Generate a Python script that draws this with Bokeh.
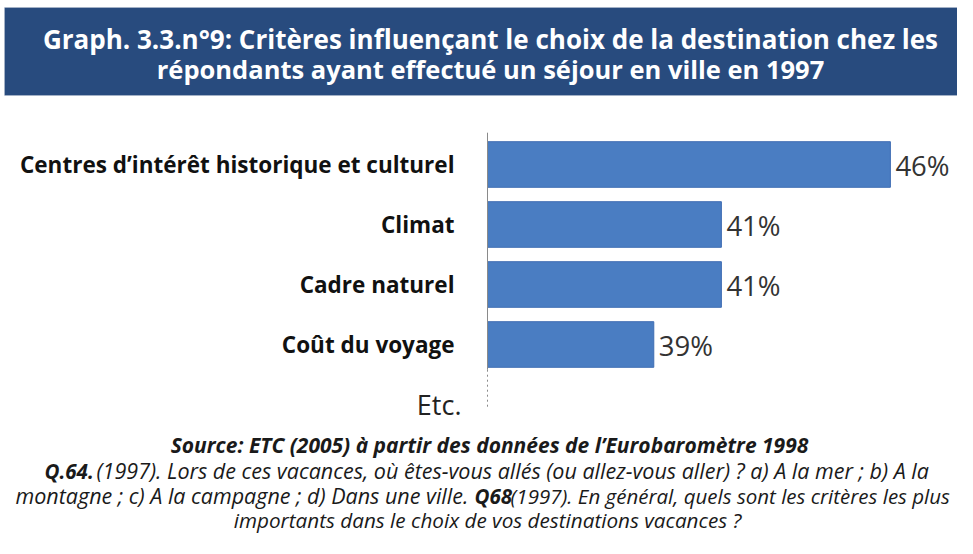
from bokeh.plotting import figure
from bokeh.models import Range1d, ColumnDataSource, Label, BoxAnnotation
from bokeh.core.properties import value
from bokeh.embed import file_html
from bokeh.resources import INLINE

# ---- data ----
categories = ["Centres d’intérêt historique et culturel", "Climat", "Cadre naturel", "Coût du voyage"]
values = [46, 41, 41, 39]
value_labels = ["46%", "41%", "41%", "39%"]
extra_category = "Etc."
title_lines = [
    "Graph. 3.3.n°9: Critères influençant le choix de la destination chez les",
    "répondants ayant effectué un séjour en ville en 1997",
]
source_text = "Source: ETC (2005) à partir des données de l’Eurobaromètre 1998"

# ---- layout constants ----
W, H = 957, 538
AXIS_MIN = 34.08          # value where bars start
AXIS_X_PX = 487           # screen x of the axis
PX_PER_PCT = 33.8
ROW0, ROW = 164, 60       # screen y of first category centre, row pitch

x0 = AXIS_MIN - AXIS_X_PX / PX_PER_PCT
x_range = Range1d(x0, x0 + W / PX_PER_PCT)
y_range = Range1d((H - ROW0) / ROW, -ROW0 / ROW)

p = figure(width=W, height=H, x_range=x_range, y_range=y_range,
           output_backend="svg", toolbar_location=None,
           x_axis_location=None, y_axis_location=None, min_border=0)
p.extra_x_ranges = {"px": Range1d(0, W)}
p.extra_y_ranges = {"pxy": Range1d(H, 0)}
p.grid.visible = False
p.outline_line_color = None
p.background_fill_color = "white"
p.border_fill_color = "white"

FONT = "Open Sans"

# ---- title banner ----
p.add_layout(BoxAnnotation(left=4, right=W, top=7, bottom=95, x_range_name="px", y_range_name="pxy",
                           fill_color="#284B7E", fill_alpha=1, line_color="#c9d1dc", line_width=1))
for ty, line, fs in zip([38, 68], title_lines, ["26px", "25.5px"]):
    p.add_layout(Label(x=490, y=ty, text=line, x_range_name="px", y_range_name="pxy",
                       text_align="center", text_baseline="middle", text_font=FONT,
                       text_font_style="bold", text_font_size=fs, text_color="white"))

# ---- bars ----
idx = list(range(len(categories)))
src = ColumnDataSource(dict(y=idx, value=values, label=value_labels, cat=categories))
p.hbar(y="y", left=AXIS_MIN, right="value", height=0.76, source=src,
       fill_color="#4A7DC2", line_color="#3F6DB3", line_width=1)
p.text(x="value", y="y", text="label", source=src, x_offset=5, y_offset=1,
       text_baseline="middle", text_align="left", text_font=value(FONT),
       text_font_size="27.5px", text_color="#333333")

# category labels
p.text(x=[454] * len(categories), y=idx, text=categories, x_range_name="px",
       text_align="right", text_baseline="middle", text_font=value(FONT),
       text_font_style="bold", text_font_size="22.5px", text_color="#111111")
p.text(x=[461], y=[len(categories)], text=[extra_category], x_range_name="px",
       text_align="right", text_baseline="middle", text_font=value(FONT),
       text_font_size="27px", text_color="#222222")

# axis line
n = len(categories)
p.segment(x0=[AXIS_MIN], y0=[-0.53], x1=[AXIS_MIN], y1=[n - 0.58], line_color="#8a8a8a", line_width=1)
p.segment(x0=[AXIS_MIN], y0=[n - 0.58], x1=[AXIS_MIN], y1=[n + 0.08], line_color="#8a8a8a",
          line_width=1, line_dash="2 3")

# ---- footer ----
def lab(x, y, text, style="italic", size="21px", align="left"):
    p.add_layout(Label(x=x, y=y, text=text, x_range_name="px", y_range_name="pxy",
                       text_align=align, text_baseline="middle", text_font=FONT,
                       text_font_style=style, text_font_size=size, text_color="#1a1a1a"))

lab(489, 444, source_text, style="bold italic", size="21px", align="center")
lab(44, 470, "Q.64.", style="bold italic", size="20.5px")
lab(96, 470, "(1997). Lors de ces vacances, où êtes-vous allés (ou allez-vous aller) ?  a) A la mer ; b) A la",
    size="21.5px")
lab(15, 495, "montagne ; c) A la campagne ; d) Dans une ville.", size="21.5px")
lab(474, 495, "Q68", style="bold italic", size="20.5px")
lab(510, 495, "(1997). En général, quels sont les critères les plus", size="20.5px")
lab(487, 519, "importants dans le choix de vos destinations vacances ?", align="center", size="20.7px")

open("out.html", "w").write(file_html(p, INLINE))
